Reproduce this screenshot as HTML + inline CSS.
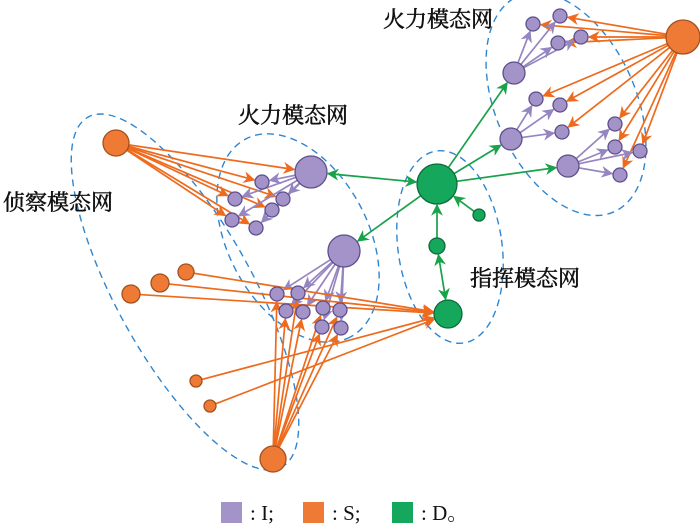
<!DOCTYPE html>
<html><head><meta charset="utf-8">
<style>
html,body{margin:0;padding:0;background:#fff;width:700px;height:524px;overflow:hidden}
svg{display:block}
.lb{font-family:"Liberation Serif","Noto Serif CJK SC","Noto Sans CJK SC",serif;font-size:22px;fill:#111;stroke:#111;stroke-width:0.5}
.lg{font-family:"Liberation Serif","Noto Serif CJK SC",serif;font-size:21px;fill:#111}
</style></head><body>
<svg id="s" width="700" height="524" viewBox="0 0 700 524" xmlns="http://www.w3.org/2000/svg">
<defs>
<marker id="mo" viewBox="0 0 10 10" refX="9" refY="5" markerWidth="7" markerHeight="7" orient="auto-start-reverse"><path d="M0,0 L10,5 L0,10 L3,5z" fill="#ee6a1c"/></marker>
<marker id="mp" viewBox="0 0 10 10" refX="9" refY="5" markerWidth="7" markerHeight="7" orient="auto-start-reverse"><path d="M0,0 L10,5 L0,10 L3,5z" fill="#9585c0"/></marker>
<marker id="mg" viewBox="0 0 10 10" refX="9" refY="5" markerWidth="7" markerHeight="7" orient="auto-start-reverse"><path d="M0,0 L10,5 L0,10 L3,5z" fill="#18a24a"/></marker>
</defs>
<g fill="none" stroke="#2f86cf" stroke-width="1.4" stroke-dasharray="7,5">
<ellipse cx="185" cy="292" rx="200" ry="68" transform="rotate(61 185 292)"/>
<ellipse cx="298" cy="238" rx="112" ry="70" transform="rotate(62 298 238)"/>
<ellipse cx="450" cy="247" rx="52" ry="97" transform="rotate(-8 450 247)"/>
<ellipse cx="566" cy="104" rx="118" ry="70" transform="rotate(66 566 104)"/>
</g>
<g id="edges"></g>
<g id="nodes"></g>
<text class="lb" x="383" y="27">火力模态网</text>
<text class="lb" x="238" y="123">火力模态网</text>
<text class="lb" x="3" y="210">侦察模态网</text>
<text class="lb" x="470" y="286">指挥模态网</text>
<rect x="221" y="502" width="21" height="21" fill="#a493c9"/>
<text class="lg" x="250" y="520">: I;</text>
<rect x="303" y="502" width="21" height="21" fill="#ef7a36"/>
<text class="lg" x="332" y="520">: S;</text>
<rect x="392" y="502" width="21" height="21" fill="#15a85c"/>
<text class="lg" x="421" y="520">: D。</text>
</svg>
<script>
var NS="http://www.w3.org/2000/svg";
var N={
 S1:[683,37,17,'o'],S2:[116,143,13,'o'],S3:[131,294,9,'o'],S4:[160,283,9,'o'],S5:[186,272,8,'o'],S6:[196,381,6,'o'],S7:[210,406,6,'o'],S8:[273,459,13,'o'],
 A:[514,73,11,'p'],a1:[533,24,7,'p'],a2:[560,16,7,'p'],a3:[558,43,7,'p'],a4:[581,37,7,'p'],
 B:[511,139,11,'p'],b1:[536,99,7,'p'],b2:[560,105,7,'p'],b3:[562,132,7,'p'],
 C:[568,166,11,'p'],c1:[615,124,7,'p'],c2:[615,147,7,'p'],c3:[640,151,7,'p'],c4:[620,175,7,'p'],
 H1:[311,172,16,'p'],h1:[262,182,7,'p'],h2:[235,199,7,'p'],h3:[283,199,7,'p'],h4:[272,210,7,'p'],h5:[232,220,7,'p'],h6:[256,228,7,'p'],
 H2:[344,251,16,'p'],k1:[277,294,7,'p'],k2:[298,293,7,'p'],k3:[286,311,7,'p'],k4:[303,312,7,'p'],k5:[323,308,7,'p'],k6:[340,310,7,'p'],k7:[322,327,7,'p'],k8:[341,328,7,'p'],
 G1:[437,184,20,'g'],G2:[479,215,6,'g'],G3:[437,246,8,'g'],G4:[448,314,14,'g']
};
var col={o:['#ef7a36','#a4501c','#ee6a1c','mo'],p:['#a493c9','#5d4f8c','#9585c0','mp'],g:['#15a85c','#0d6b39','#18a24a','mg']};
var E=document.getElementById('edges'),ND=document.getElementById('nodes');
function edge(f,t,type,both){
 var a=N[f],b=N[t];var dx=b[0]-a[0],dy=b[1]-a[1],d=Math.hypot(dx,dy);var ux=dx/d,uy=dy/d;
 var l=document.createElementNS(NS,'line');
 var s=both?a[2]+1:a[2]*0.3;
 l.setAttribute('x1',a[0]+ux*s);l.setAttribute('y1',a[1]+uy*s);
 l.setAttribute('x2',b[0]-ux*(b[2]+1));l.setAttribute('y2',b[1]-uy*(b[2]+1));
 l.setAttribute('stroke',col[type][2]);l.setAttribute('stroke-width','1.7');
 l.setAttribute('marker-end','url(#'+col[type][3]+')');
 if(both)l.setAttribute('marker-start','url(#'+col[type][3]+')');
 E.appendChild(l);
}
['a1','a2','a3','a4','b1','b2','b3','c1','c2','c3','c4'].forEach(function(t){edge('S1',t,'o')});
['a1','a2','a3','a4'].forEach(function(t){edge('A',t,'p')});
['b1','b2','b3'].forEach(function(t){edge('B',t,'p')});
['c1','c2','c3','c4'].forEach(function(t){edge('C',t,'p')});
['H1','h1','h2','h3','h4','h5','h6'].forEach(function(t){edge('S2',t,'o')});
['h1','h2','h3','h4','h5','h6'].forEach(function(t){edge('H1',t,'p')});
['k1','k2','k3','k4','k5','k6','k7','k8'].forEach(function(t){edge('H2',t,'p')});
['k1','k2','k3','k4','k5','k6','k7','k8'].forEach(function(t){edge('S8',t,'o')});
['S3','S4','S5','S6','S7'].forEach(function(f){edge(f,'G4','o')});
['A','B','C','H2'].forEach(function(t){edge('G1',t,'g')});
edge('G1','H1','g',true);edge('G2','G1','g');edge('G3','G1','g');edge('G3','G4','g',true);
for(var k in N){var n=N[k];var c=document.createElementNS(NS,'circle');
 c.setAttribute('cx',n[0]);c.setAttribute('cy',n[1]);c.setAttribute('r',n[2]);
 c.setAttribute('fill',col[n[3]][0]);c.setAttribute('stroke',col[n[3]][1]);c.setAttribute('stroke-width','1.3');ND.appendChild(c);}
</script>
</body></html>
